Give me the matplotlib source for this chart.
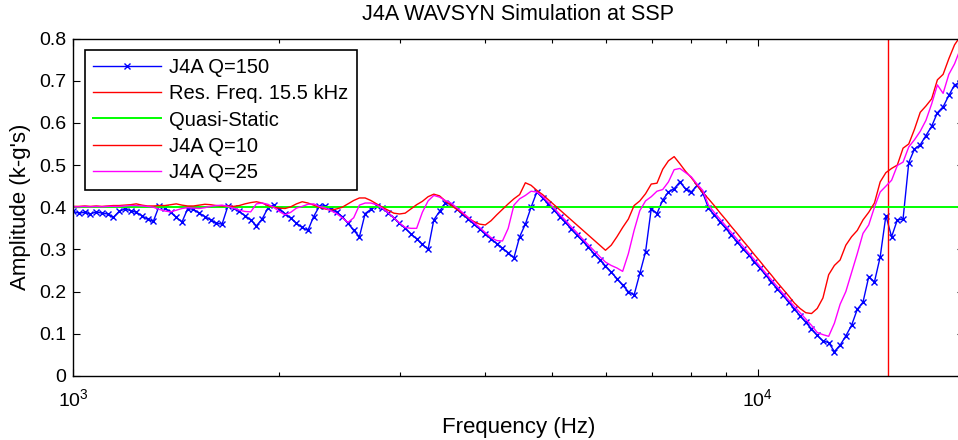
import numpy as np
import matplotlib
matplotlib.use('Agg')
import matplotlib.pyplot as plt
from matplotlib.ticker import NullFormatter

plt.rcParams['font.family'] = ['Liberation Sans', 'DejaVu Sans']

# SRS analysis frequencies: 1/36 octave steps from 1 kHz
freq = 1000 * 2 ** (np.arange(156) / 36.0)

# J4A Q=150 (blue, with markers)
q150 = [0.390, 0.386, 0.388, 0.384, 0.389, 0.386, 0.384, 0.376, 0.390, 0.396,
        0.392, 0.388, 0.380, 0.371, 0.367, 0.403, 0.398, 0.388, 0.376, 0.365,
        0.397, 0.395, 0.386, 0.378, 0.370, 0.362, 0.360, 0.402, 0.398, 0.390,
        0.380, 0.370, 0.356, 0.372, 0.398, 0.405, 0.397, 0.385, 0.374, 0.362,
        0.352, 0.345, 0.378, 0.402, 0.404, 0.397, 0.388, 0.378, 0.362, 0.345,
        0.330, 0.385, 0.395, 0.403, 0.398, 0.387, 0.375, 0.362, 0.350, 0.337,
        0.325, 0.312, 0.300, 0.370, 0.390, 0.410, 0.407, 0.396, 0.384, 0.372,
        0.360, 0.348, 0.337, 0.325, 0.314, 0.303, 0.292, 0.280, 0.330, 0.360,
        0.400, 0.436, 0.422, 0.408, 0.393, 0.378, 0.364, 0.349, 0.334, 0.320,
        0.305, 0.290, 0.276, 0.261, 0.246, 0.231, 0.215, 0.200, 0.192, 0.243,
        0.294, 0.397, 0.385, 0.417, 0.436, 0.444, 0.460, 0.443, 0.436, 0.452,
        0.434, 0.398, 0.382, 0.366, 0.350, 0.334, 0.318, 0.302, 0.287, 0.271,
        0.255, 0.239, 0.223, 0.207, 0.191, 0.175, 0.159, 0.143, 0.127, 0.112,
        0.096, 0.083, 0.079, 0.058, 0.073, 0.095, 0.120, 0.158, 0.175, 0.235,
        0.223, 0.282, 0.380, 0.330, 0.370, 0.372, 0.506, 0.538, 0.548, 0.570,
        0.592, 0.624, 0.638, 0.665, 0.690, 0.695]

# J4A Q=10 (red)
q10 = [0.402, 0.402, 0.403, 0.402, 0.403, 0.402, 0.403, 0.404, 0.404, 0.405,
       0.406, 0.408, 0.405, 0.403, 0.403, 0.404, 0.404, 0.406, 0.408, 0.405,
       0.403, 0.403, 0.405, 0.407, 0.406, 0.404, 0.403, 0.403, 0.402, 0.404,
       0.408, 0.411, 0.413, 0.410, 0.404, 0.400, 0.398, 0.397, 0.401, 0.408,
       0.413, 0.410, 0.405, 0.400, 0.396, 0.393, 0.396, 0.400, 0.408, 0.416,
       0.422, 0.422, 0.416, 0.408, 0.400, 0.393, 0.386, 0.384, 0.386, 0.396,
       0.406, 0.414, 0.425, 0.431, 0.427, 0.415, 0.405, 0.395, 0.386, 0.375,
       0.366, 0.360, 0.358, 0.368, 0.382, 0.395, 0.408, 0.420, 0.430, 0.458,
       0.452, 0.440, 0.430, 0.418, 0.406, 0.394, 0.382, 0.370, 0.358, 0.346,
       0.334, 0.322, 0.310, 0.298, 0.310, 0.330, 0.352, 0.372, 0.404, 0.415,
       0.432, 0.455, 0.457, 0.490, 0.510, 0.520, 0.503, 0.485, 0.470, 0.452,
       0.435, 0.420, 0.404, 0.387, 0.371, 0.354, 0.338, 0.321, 0.305, 0.288,
       0.272, 0.255, 0.239, 0.222, 0.206, 0.190, 0.173, 0.160, 0.150, 0.148,
       0.160, 0.185, 0.240, 0.262, 0.275, 0.310, 0.330, 0.345, 0.370, 0.388,
       0.410, 0.460, 0.482, 0.492, 0.500, 0.540, 0.550, 0.585, 0.625, 0.640,
       0.657, 0.702, 0.715, 0.752, 0.785, 0.805]

# J4A Q=25 (magenta)
q25 = [0.401, 0.401, 0.402, 0.401, 0.402, 0.401, 0.402, 0.402, 0.402, 0.403,
       0.404, 0.404, 0.403, 0.402, 0.400, 0.395, 0.391, 0.389, 0.393, 0.397,
       0.399, 0.398, 0.397, 0.399, 0.402, 0.404, 0.405, 0.402, 0.398, 0.393,
       0.390, 0.389, 0.408, 0.410, 0.407, 0.400, 0.390, 0.382, 0.388, 0.398,
       0.402, 0.407, 0.408, 0.402, 0.398, 0.392, 0.385, 0.375, 0.364, 0.375,
       0.405, 0.410, 0.410, 0.406, 0.398, 0.387, 0.375, 0.363, 0.352, 0.350,
       0.350, 0.388, 0.415, 0.428, 0.424, 0.416, 0.410, 0.399, 0.388, 0.376,
       0.364, 0.352, 0.340, 0.328, 0.321, 0.320, 0.350, 0.405, 0.420, 0.428,
       0.438, 0.436, 0.426, 0.412, 0.398, 0.383, 0.369, 0.354, 0.340, 0.325,
       0.311, 0.297, 0.283, 0.270, 0.262, 0.256, 0.248, 0.290, 0.345, 0.392,
       0.415, 0.425, 0.438, 0.442, 0.460, 0.489, 0.492, 0.482, 0.472, 0.455,
       0.440, 0.405, 0.388, 0.372, 0.356, 0.340, 0.324, 0.308, 0.292, 0.276,
       0.260, 0.244, 0.228, 0.212, 0.196, 0.180, 0.165, 0.150, 0.135, 0.120,
       0.103, 0.098, 0.094, 0.125, 0.170, 0.200, 0.245, 0.290, 0.338, 0.358,
       0.400, 0.436, 0.450, 0.464, 0.499, 0.507, 0.543, 0.560, 0.580, 0.606,
       0.645, 0.690, 0.670, 0.715, 0.740, 0.775]

quasi_static = 0.4
res_freq = 15500

yticks = [0, 0.1, 0.2, 0.3, 0.4, 0.5, 0.6, 0.7, 0.8]
ytick_labels = ['0', '0.1', '0.2', '0.3', '0.4', '0.5', '0.6', '0.7', '0.8']

fig = plt.figure(figsize=(9.58, 4.40), dpi=100)
ax = fig.add_axes([0.0765, 0.1455, 0.9294, 0.767])

ax.plot(freq, q150, color='#0000ff', lw=1, marker='x', ms=5, mew=1,
        label='J4A Q=150')
ax.axvline(res_freq, color='#ff0000', lw=1, label='Res. Freq. 15.5 kHz')
ax.axhline(quasi_static, color='#00ff00', lw=1.4, label='Quasi-Static')
ax.plot(freq, q10, color='#ff0000', lw=1, label='J4A Q=10')
ax.plot(freq, q25, color='#ff00ff', lw=1, label='J4A Q=25')

ax.set_xscale('log')
ax.set_xlim(1000, 20000)
ax.set_ylim(0, 0.8)
ax.set_yticks(yticks)
ax.set_yticklabels(ytick_labels)
ax.xaxis.set_minor_formatter(NullFormatter())

ax.tick_params(which='both', direction='in', top=True, right=True,
               labelsize=14, width=0.8)
ax.tick_params(which='major', length=5, pad=5)
ax.tick_params(which='minor', length=3)
ax.tick_params(axis='x', which='major', pad=9)
for s in ax.spines.values():
    s.set_linewidth(1)

ax.set_title('J4A WAVSYN Simulation at SSP', fontsize=15.5, pad=13)
ax.set_xlabel('Frequency (Hz)', fontsize=16, labelpad=5)
ax.set_ylabel("Amplitude (k-g's)", fontsize=16, labelpad=6)

leg = ax.legend(loc='upper left', bbox_to_anchor=(0.013, 0.966),
                fontsize=14.5, handlelength=3.4, handletextpad=0.4,
                numpoints=1, borderaxespad=0, borderpad=0.4,
                labelspacing=0.36, fancybox=False,
                framealpha=1, edgecolor='black')
leg.get_frame().set_linewidth(1.2)

fig.savefig('out.png', dpi=100)
